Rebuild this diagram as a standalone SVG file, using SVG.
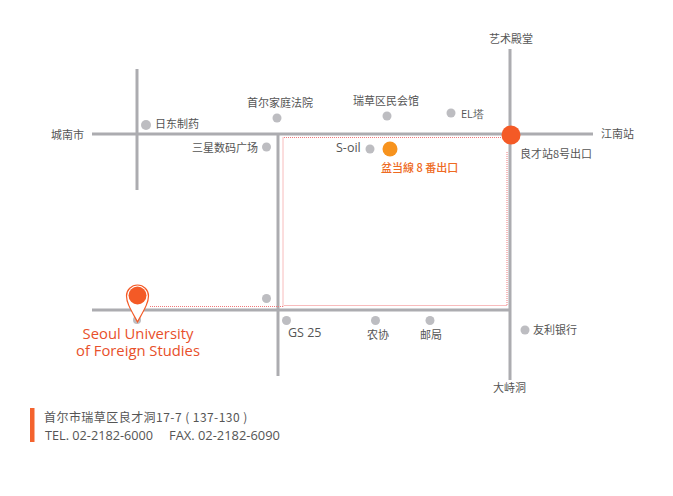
<svg xmlns="http://www.w3.org/2000/svg" width="673" height="496" viewBox="0 0 673 496">
<style>
text{font-family:"Noto Sans CJK SC","Noto Sans",sans-serif;font-size:11px;fill:#555}
.road{stroke:#acacb0;stroke-width:3;fill:none}
.route{stroke:#f0787a;stroke-width:1;stroke-dasharray:1 1;fill:none}
.poi{fill:#bdbdc1}
.hub{fill:#f45a26}
.lat{font-family:"Open Sans","Noto Sans",sans-serif}
</style>
<rect width="673" height="496" fill="#fff"/>
<g id="connectors">
<path class="road" d="M92 134H593"/>
<path class="road" d="M137 69V190"/>
<path class="road" d="M278 134V376"/>
<path class="road" d="M510 49V380"/>
<path class="road" d="M92 310H510"/>
<path class="route" d="M150 306.500H283M283 306.500V137.500H501M507 152V305.500H284"/>
</g>
<g id="n-chengnan"><text x="51" y="139">城南市</text></g>
<g id="n-ridong"><circle class="poi" cx="146" cy="125" r="5"/><text x="155" y="128">日东制药</text></g>
<g id="n-court"><circle class="poi" cx="277" cy="118" r="4.500"/><text x="247" y="107">首尔家庭法院</text></g>
<g id="n-samsung"><circle class="poi" cx="266.500" cy="147" r="4.500"/><text x="192" y="152">三星数码广场</text></g>
<g id="n-seocho"><circle class="poi" cx="387" cy="116" r="4.500"/><text x="353" y="105">瑞草区民会馆</text></g>
<g id="n-el"><circle class="poi" cx="451" cy="113" r="4.500"/><text x="461" y="118" class="lat">EL塔</text></g>
<g id="n-art"><text x="489" y="43">艺术殿堂</text></g>
<g id="n-gangnam"><text x="601" y="138">江南站</text></g>
<g id="n-yangjae"><circle class="hub" cx="511" cy="135" r="9.500"/><text x="520" y="158">良才站8号出口</text></g>
<g id="n-soil"><circle class="poi" cx="370" cy="149" r="4.500"/><text x="336" y="152" class="lat" style="font-size:12.500px">S-oil</text></g>
<g id="n-bundang"><circle cx="390" cy="149" r="7.500" fill="#f7931e"/><text x="381" y="172" style="fill:#ee6a22;font-weight:500">盆当線 8 番出口</text></g>
<g id="n-poi-a"><circle class="poi" cx="266.500" cy="298.500" r="4.500"/></g>
<g id="n-gs"><circle class="poi" cx="286.500" cy="320.500" r="4.500"/><text x="288" y="337" class="lat" style="font-size:12.500px">GS 25</text></g>
<g id="n-nonghyup"><circle class="poi" cx="375.500" cy="320.500" r="4.500"/><text x="367" y="339">农协</text></g>
<g id="n-post"><circle class="poi" cx="430" cy="320.500" r="4.500"/><text x="420" y="339">邮局</text></g>
<g id="n-woori"><circle class="poi" cx="525" cy="330" r="4.500"/><text x="533" y="334">友利银行</text></g>
<g id="n-daechi"><text x="493" y="392">大峙洞</text></g>
<g id="n-hufs">
<circle class="poi" cx="137" cy="320" r="4"/>
<path d="M137.500 322C131 310 126.500 303 126.500 296A11 11 0 0 1 148.500 296C148.500 303 144 310 137.500 322Z" fill="#fff" stroke="#f45a26" stroke-width="1.200"/>
<circle class="hub" cx="137.500" cy="295.500" r="9"/>
<text text-anchor="middle" class="lat" style="font-size:14.800px;fill:#e8502a"><tspan x="138" y="339">Seoul University</tspan><tspan x="138" y="356">of Foreign Studies</tspan></text>
</g>
<g id="address">
<rect x="30" y="408" width="4.500" height="34" fill="#f4632e"/>
<text x="44" y="422" style="font-size:12px;letter-spacing:.45px">首尔市瑞草区良才洞17-7 ( 137-130 )</text>
<text x="45" y="440" class="lat" style="font-size:12.700px">TEL. 02-2182-6000</text>
<text x="169" y="440" class="lat" style="font-size:12.900px">FAX. 02-2182-6090</text>
</g>
</svg>
